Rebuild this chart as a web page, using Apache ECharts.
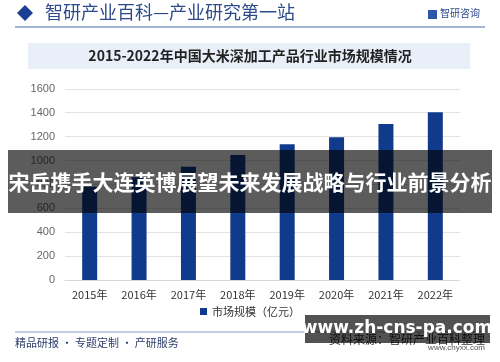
<!DOCTYPE html>
<html><head><meta charset="utf-8">
<script src="https://cdn.jsdelivr.net/npm/echarts@6/dist/echarts.min.js"></script>
<style>html,body{margin:0;padding:0;background:#fff}#c{width:500px;height:362px}</style>
</head><body><div id="c"></div>
<script>
var categories = ['2015年','2016年','2017年','2018年','2019年','2020年','2021年','2022年'];
var marketSize = [780, 860, 948, 1046, 1135, 1194, 1305, 1403];
var yTicks = [0, 1600, 200];
var seriesName = '市场规模（亿元）';
var CJK = '"Noto Sans CJK SC", "Noto Sans", sans-serif';
var chart = echarts.init(document.getElementById('c'), null, {renderer:'canvas'});
chart.setOption({
  backgroundColor:'#fff',
  animation:false,
  grid:{left:65, right:40, top:88.8, bottom:82, containLabel:false},
  legend:{data:[seriesName], bottom:40, left:'center', itemWidth:7, itemHeight:7, icon:'rect', itemGap:4,
    textStyle:{fontSize:11, color:'#333', fontFamily:CJK}},
  xAxis:{type:'category', data:categories,
    axisLine:{lineStyle:{color:'#d9d9d9'}}, axisTick:{show:false},
    axisLabel:{fontSize:11, color:'#333', margin:9, fontFamily:CJK}},
  yAxis:{type:'value', min:yTicks[0], max:yTicks[1], interval:yTicks[2],
    axisLine:{show:false}, axisTick:{show:false},
    splitLine:{lineStyle:{color:'#e3e3e3'}},
    axisLabel:{fontSize:11, color:'#666', margin:10, fontFamily:'Arial, sans-serif', formatter:function(v){return String(v);}}},
  series:[{name:seriesName, type:'bar', data:marketSize, barWidth:15, itemStyle:{color:'#103a8c'}}],
  graphic:[
    {type:'polygon', shape:{points:[[25,5],[33,13],[25,21],[17,13]]}, style:{fill:'#1c3f94'}},
    {type:'text', left:45, top:3, style:{text:'智研产业百科—产业研究第一站', font:'18px '+CJK, fill:'#2c4a8c'}},
    {type:'rect', shape:{x:428, y:10, width:9, height:9}, style:{fill:'#2c57a8'}},
    {type:'text', left:440, top:8, style:{text:'智研咨询', font:'10px '+CJK, fill:'#2c4a8c'}},
    {type:'line', shape:{x1:15, y1:27, x2:485, y2:27}, style:{stroke:'#4a6aa8', lineWidth:1}},
    {type:'rect', shape:{x:28, y:43, width:442, height:26}, style:{fill:'#e9eff9'}},
    {type:'text', x:250, y:56, style:{text:'2015-2022年中国大米深加工产品行业市场规模情况', font:'bold 14px '+CJK, fill:'#222', align:'center', verticalAlign:'middle'}},
    {type:'line', shape:{x1:15, y1:332, x2:485, y2:332}, style:{stroke:'#8a9cc4', lineWidth:1}},
    {type:'text', left:15, top:337, style:{text:'精品研报 · 专题定制 · 产研服务', font:'11px '+CJK, fill:'#2c3e6a'}},
    {type:'text', x:485, y:333, style:{text:'资料来源：智研产业百科整理', font:'12px '+CJK, fill:'#333', align:'right', verticalAlign:'top'}},
    {type:'text', x:485, y:348, style:{text:'www.chyxx.com', font:'8px Arial', fill:'#555', align:'right', verticalAlign:'middle'}},
    {type:'rect', z:100, shape:{x:8, y:150, width:484, height:63}, style:{fill:'rgba(0,0,0,0.64)'}},
    {type:'text', z:101, x:250, y:182, style:{text:'宋岳携手大连英博展望未来发展战略与行业前景分析', font:'bold 21px '+CJK, fill:'#fff', align:'center', verticalAlign:'middle'}},
    {type:'rect', z:100, shape:{x:305, y:315, width:185, height:28}, style:{fill:'rgba(0,0,0,0.68)'}},
    {type:'text', z:101, x:397, y:329, style:{text:'www.zh-cns-pa.com', font:'bold 17px "DejaVu Sans", sans-serif', fill:'#fff', align:'center', verticalAlign:'middle'}}
  ]
});
</script></body></html>
